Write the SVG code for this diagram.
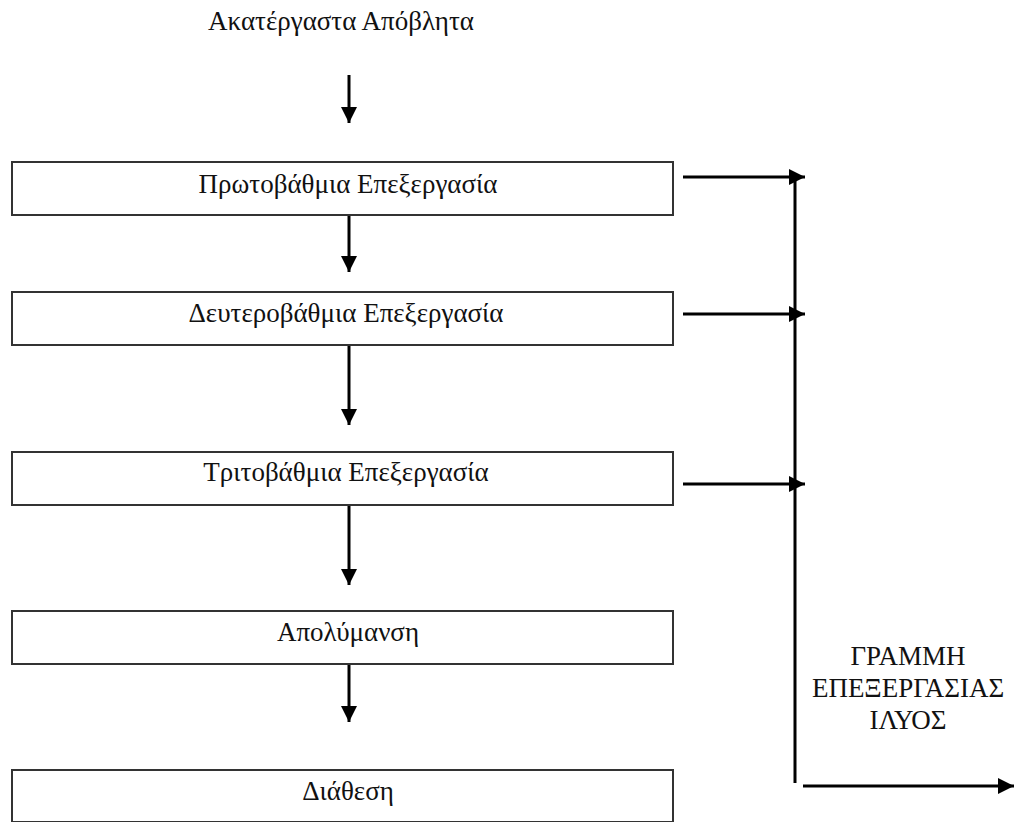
<svg xmlns="http://www.w3.org/2000/svg" width="1014" height="822" viewBox="0 0 1014 822">
<defs>
<marker id="ah" markerWidth="16" markerHeight="16" viewBox="0 0 16 16" refX="16" refY="8" orient="auto" markerUnits="userSpaceOnUse">
<path d="M0,0 L16,8 L0,16 z" fill="#000"/>
</marker>
<style>
.box{fill:#fff;stroke:#333;stroke-width:2}
.t{font-family:"Liberation Serif","Times New Roman",serif;font-size:27px;fill:#111;text-anchor:middle}
.c{stroke:#000;stroke-width:3;fill:none}
</style>
</defs>
<rect width="1014" height="822" fill="#fff"/>
<g id="n0"><text class="t" x="341" y="30">Ακατέργαστα Απόβλητα</text></g>
<g id="n1"><rect class="box" x="12" y="162" width="661" height="53"/><text class="t" x="348" y="193">Πρωτοβάθμια Επεξεργασία</text></g>
<g id="n2"><rect class="box" x="12" y="292" width="661" height="53"/><text class="t" x="346" y="322">Δευτεροβάθμια Επεξεργασία</text></g>
<g id="n3"><rect class="box" x="12" y="452" width="661" height="53"/><text class="t" x="346" y="481">Τριτοβάθμια Επεξεργασία</text></g>
<g id="n4"><rect class="box" x="12" y="611" width="661" height="53"/><text class="t" x="348" y="641">Απολύμανση</text></g>
<g id="n5"><rect class="box" x="12" y="770" width="661" height="52"/><text class="t" x="348" y="800">Διάθεση</text></g>
<g id="n6">
<text class="t" x="908" y="665">ΓΡΑΜΜΗ</text>
<text class="t" x="908" y="697">ΕΠΕΞΕΡΓΑΣΙΑΣ</text>
<text class="t" x="908" y="729">ΙΛΥΟΣ</text>
</g>
<g id="connectors">
<line class="c" x1="349" y1="75" x2="349" y2="123" stroke-width="2" marker-end="url(#ah)"/>
<line class="c" x1="349" y1="216" x2="349" y2="272" stroke-width="2" marker-end="url(#ah)"/>
<line class="c" x1="349" y1="346" x2="349" y2="425" stroke-width="2" marker-end="url(#ah)"/>
<line class="c" x1="349" y1="506" x2="349" y2="585" stroke-width="2" marker-end="url(#ah)"/>
<line class="c" x1="349" y1="665" x2="349" y2="722" stroke-width="2" marker-end="url(#ah)"/>
<line class="c" x1="683" y1="177" x2="805" y2="177" marker-end="url(#ah)"/>
<line class="c" x1="683" y1="314" x2="805" y2="314" marker-end="url(#ah)"/>
<line class="c" x1="683" y1="484" x2="805" y2="484" marker-end="url(#ah)"/>
<line class="c" x1="795" y1="177" x2="795" y2="783"/>
<line class="c" x1="803" y1="786" x2="1014" y2="786" marker-end="url(#ah)"/>
</g>
</svg>
